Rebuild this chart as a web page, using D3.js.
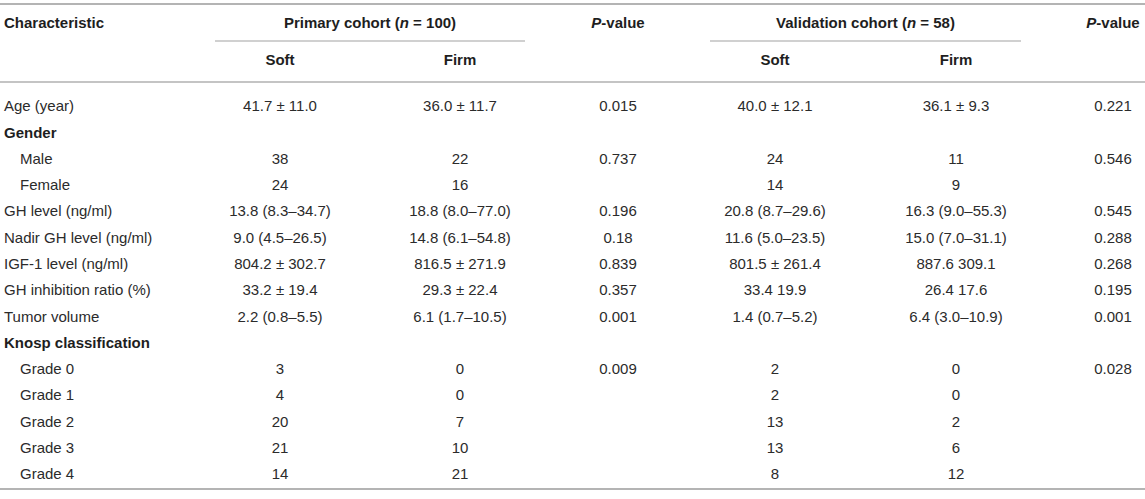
<!DOCTYPE html>
<html>
<head>
<meta charset="utf-8">
<script src="https://cdn.jsdelivr.net/npm/d3@7"></script>
<style>
  html, body { margin: 0; padding: 0; background: #fff; }
  svg text { font-family: "Liberation Sans", Arial, Helvetica, sans-serif; font-size: 15px; fill: #2b2b2b; }
  svg text.bold { font-weight: bold; fill: #1e1e1e; }
</style>
</head>
<body>
<div id="chart"></div>
<script>
// table content
const characteristics = ['Age (year)', 'Gender', 'Male', 'Female', 'GH level (ng/ml)', 'Nadir GH level (ng/ml)',
  'IGF-1 level (ng/ml)', 'GH inhibition ratio (%)', 'Tumor volume', 'Knosp classification',
  'Grade 0', 'Grade 1', 'Grade 2', 'Grade 3', 'Grade 4'];
// 'group' = bold section label, 'sub' = indented row
const rowKinds = ['row', 'group', 'sub', 'sub', 'row', 'row', 'row', 'row', 'row', 'group',
  'sub', 'sub', 'sub', 'sub', 'sub'];

const primarySoft = ['41.7 ± 11.0', '', '38', '24', '13.8 (8.3–34.7)', '9.0 (4.5–26.5)', '804.2 ± 302.7',
  '33.2 ± 19.4', '2.2 (0.8–5.5)', '', '3', '4', '20', '21', '14'];
const primaryFirm = ['36.0 ± 11.7', '', '22', '16', '18.8 (8.0–77.0)', '14.8 (6.1–54.8)', '816.5 ± 271.9',
  '29.3 ± 22.4', '6.1 (1.7–10.5)', '', '0', '0', '7', '10', '21'];
const primaryP = ['0.015', '', '0.737', '', '0.196', '0.18', '0.839', '0.357', '0.001', '', '0.009', '', '', '', ''];
const validationSoft = ['40.0 ± 12.1', '', '24', '14', '20.8 (8.7–29.6)', '11.6 (5.0–23.5)', '801.5 ± 261.4',
  '33.4 19.9', '1.4 (0.7–5.2)', '', '2', '2', '13', '13', '8'];
const validationFirm = ['36.1 ± 9.3', '', '11', '9', '16.3 (9.0–55.3)', '15.0 (7.0–31.1)', '887.6 309.1',
  '26.4 17.6', '6.4 (3.0–10.9)', '', '0', '0', '2', '6', '12'];
const validationP = ['0.221', '', '0.546', '', '0.545', '0.288', '0.268', '0.195', '0.001', '', '0.028', '', '', '', ''];

const columnKeys = ['pSoft', 'pFirm', 'pP', 'vSoft', 'vFirm', 'vP'];
const subHeaders = ['Soft', 'Firm', '', 'Soft', 'Firm', ''];
// header pieces: [text, italic?]
const cohortHeaders = [
  { cols: ['pSoft', 'pFirm'], parts: [['Primary cohort (', false], ['n', true], [' = 100)', false]] },
  { cols: ['vSoft', 'vFirm'], parts: [['Validation cohort (', false], ['n', true], [' = 58)', false]] }
];
const pHeaders = [
  { col: 'pP', parts: [['P', true], ['-value', false]] },
  { col: 'vP', parts: [['P', true], ['-value', false]] }
];

document.addEventListener('DOMContentLoaded', function () {
  const w = 1145, h = 499;
  const svg = d3.select('#chart').append('svg')
    .attr('width', w).attr('height', h);

  const colValues = {
    pSoft: primarySoft, pFirm: primaryFirm, pP: primaryP,
    vSoft: validationSoft, vFirm: validationFirm, vP: validationP
  };

  const x = d3.scaleOrdinal()
    .domain(columnKeys)
    .range([280, 460, 618, 775, 956, 1113]);

  const y = d3.scaleLinear()
    .domain([0, characteristics.length - 1])
    .range([106, 474]);

  // rules
  const rule = (x1, x2, yy, color, width) => svg.append('line')
    .attr('x1', x1).attr('x2', x2).attr('y1', yy).attr('y2', yy)
    .attr('stroke', color).attr('stroke-width', width);

  rule(0, w, 4, '#b4b4b4', 2);
  rule(0, w, 82, '#c4c4c4', 2);
  rule(0, w, 489, '#b4b4b4', 2);

  // header row 1
  svg.append('text').attr('class', 'bold')
    .attr('x', 4).attr('y', 23).attr('dy', '0.35em')
    .text('Characteristic');

  const addParts = (sel, parts) => {
    parts.forEach(p => {
      sel.append('tspan')
        .style('font-style', p[1] ? 'italic' : null)
        .text(p[0]);
    });
  };

  cohortHeaders.forEach(c => {
    const cx = (x(c.cols[0]) + x(c.cols[1])) / 2;
    const t = svg.append('text').attr('class', 'bold')
      .attr('x', cx).attr('y', 23).attr('dy', '0.35em')
      .attr('text-anchor', 'middle');
    addParts(t, c.parts);
    rule(x(c.cols[0]) - 65, x(c.cols[1]) + 65, 41, '#c0c0c0', 1.5);
  });

  pHeaders.forEach(p => {
    const t = svg.append('text').attr('class', 'bold')
      .attr('x', x(p.col)).attr('y', 23).attr('dy', '0.35em')
      .attr('text-anchor', 'middle');
    addParts(t, p.parts);
  });

  // header row 2
  svg.selectAll('text.sub-head')
    .data(columnKeys.filter((k, i) => subHeaders[i]))
    .enter().append('text')
    .attr('class', 'bold sub-head')
    .attr('x', d => x(d)).attr('y', 60).attr('dy', '0.35em')
    .attr('text-anchor', 'middle')
    .text(d => subHeaders[columnKeys.indexOf(d)]);

  // row labels
  svg.selectAll('text.label')
    .data(characteristics)
    .enter().append('text')
    .attr('class', (d, i) => rowKinds[i] === 'group' ? 'bold label' : 'label')
    .attr('x', (d, i) => rowKinds[i] === 'sub' ? 20 : 4)
    .attr('y', (d, i) => y(i)).attr('dy', '0.35em')
    .text(d => d);

  // body cells
  columnKeys.forEach(k => {
    svg.selectAll('text.cell-' + k)
      .data(colValues[k])
      .enter().append('text')
      .attr('class', 'cell-' + k)
      .attr('x', x(k))
      .attr('y', (d, i) => y(i)).attr('dy', '0.35em')
      .attr('text-anchor', 'middle')
      .text(d => d);
  });
});
</script>
</body>
</html>
